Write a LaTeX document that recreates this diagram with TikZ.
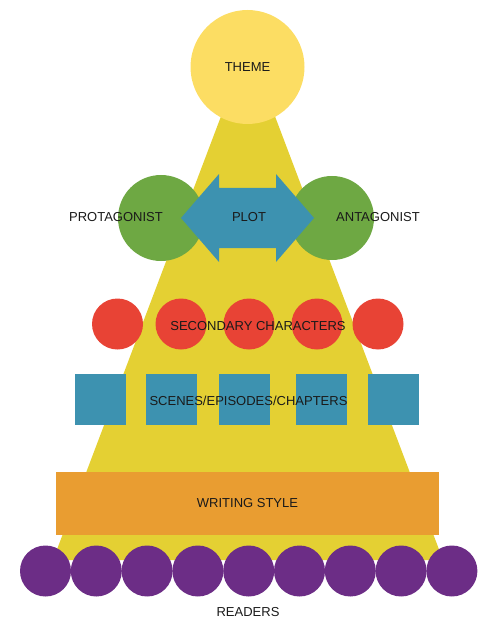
\documentclass[tikz,border=0pt]{standalone}
\usepackage{fontspec}
\setmainfont{Liberation Sans}
\definecolor{themeY}{HTML}{FCDD63}
\definecolor{triY}{HTML}{E4D033}
\definecolor{grn}{HTML}{6EA843}
\definecolor{blu}{HTML}{3D92B0}
\definecolor{rd}{HTML}{E84335}
\definecolor{org}{HTML}{E99D31}
\definecolor{purp}{HTML}{6C2D86}
\definecolor{txt}{HTML}{1A1A1A}
\begin{document}
\begin{tikzpicture}[x=1pt,y=-1pt,
  lbl/.style={text=txt,font=\fontsize{13}{15}\selectfont,inner sep=0pt},
  disc/.style={circle,inner sep=0pt,minimum size=#1,draw=none},
  sq/.style={rectangle,fill=blu,minimum size=51pt,inner sep=0pt}]
\useasboundingbox (0,0) rectangle (500,636);
% pyramid
\fill[triY] (248,45) -- (443,560) -- (53,560) -- cycle;
% theme
\node[disc=114pt,fill=themeY] (theme) at (247.5,67) {};
\node[lbl] (themeT) at (theme) {THEME};
% protagonist / antagonist
\node[disc=86pt,fill=grn] (pro) at (161,218) {};
\node[disc=84pt,fill=grn] (ant) at (332,218) {};
% plot double arrow
\fill[blu] (181,218) -- (219,174) -- (219,188) -- (276,188) -- (276,174) -- (314,218)
  -- (276,262) -- (276,248) -- (219,248) -- (219,262) -- cycle;
\node[lbl] (plot) at (249,217) {PLOT};
\node[lbl,anchor=east] (proT) at (163,217) {PROTAGONIST};
\node[lbl,anchor=west] (antT) at (336,217) {ANTAGONIST};
% secondary characters
\foreach \x/\n in {117.5/1,181/2,249/3,317/4,378/5}
  \node[disc=51pt,fill=rd] (sc\n) at (\x,324) {};
\node[lbl] (scT) at (258,326) {SECONDARY CHARACTERS};
% scenes
\foreach \x/\n in {100.5/1,171.5/2,244/3,321.5/4,393.5/5}
  \node[sq] (sq\n) at (\x,399.5) {};
\node[lbl] (sqT) at (248.5,401) {SCENES/EPISODES/CHAPTERS};
% writing style
\node[rectangle,fill=org,minimum width=383pt,minimum height=63pt,inner sep=0pt] (ws) at (247.5,503.5) {};
\node[lbl] (wsT) at (ws) {WRITING STYLE};
% readers
\foreach \i in {0,...,8}
  \node[disc=51pt,fill=purp] (r\i) at ({45.5+50.8*\i},571) {};
\node[lbl] (rdT) at (248,612) {READERS};
\end{tikzpicture}
\end{document}
